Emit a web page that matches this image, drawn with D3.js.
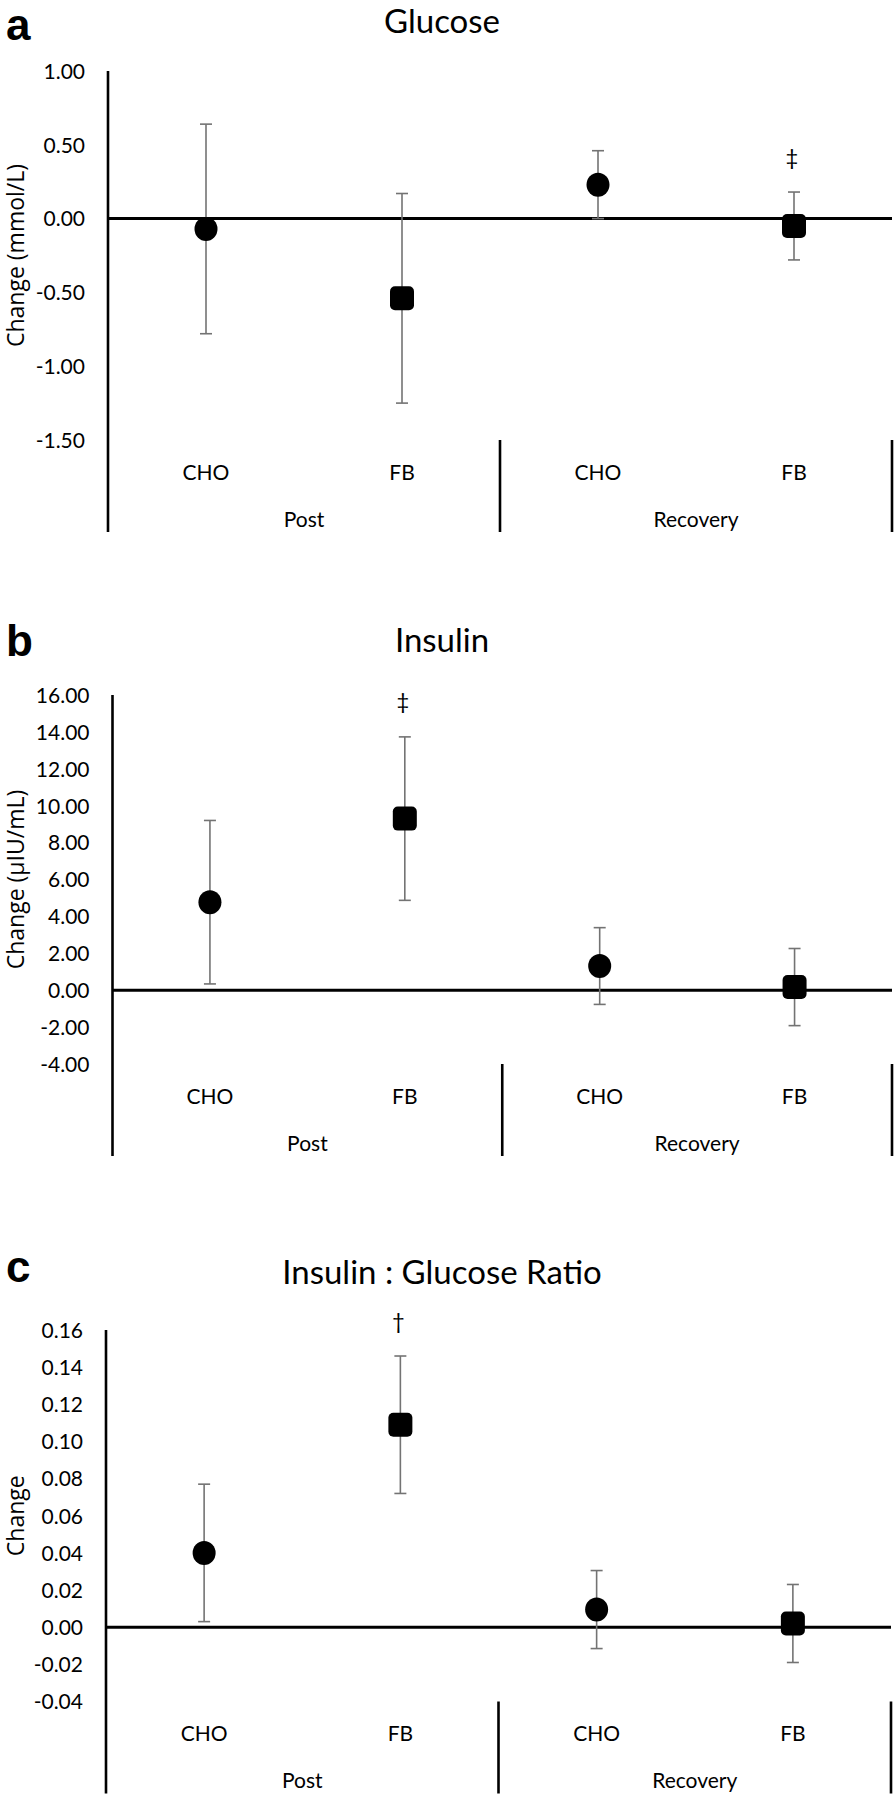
<!DOCTYPE html>
<html>
<head>
<meta charset="utf-8">
<script src="https://cdn.jsdelivr.net/npm/d3@7"></script>
<style>
  body { margin: 0; background: #fff; }
  svg { display: block; }
</style>
</head>
<body>
<div id="chart"></div>
<script>
// categories
var groups = ["Post", "Recovery"];
var treatments = ["CHO", "FB"];
var categories = ["Post|CHO", "Post|FB", "Recovery|CHO", "Recovery|FB"];

// glucose change (mmol/L)
var glucoseMean = [-0.07, -0.54, 0.23, -0.05];
var glucoseErr = [0.71, 0.71, 0.23, 0.23];
var glucoseTicks = [1.0, 0.5, 0.0, -0.5, -1.0, -1.5];
var glucoseSig = ["", "", "", "\u2021"];

// insulin change (uIU/mL)
var insulinMean = [4.77, 9.30, 1.31, 0.17];
var insulinErr = [4.43, 4.43, 2.08, 2.09];
var insulinTicks = [16, 14, 12, 10, 8, 6, 4, 2, 0, -2, -4];
var insulinSig = ["", "\u2021", "", ""];

// insulin : glucose ratio change
var ratioMean = [0.040, 0.109, 0.0095, 0.002];
var ratioErr = [0.037, 0.037, 0.021, 0.021];
var ratioTicks = [0.16, 0.14, 0.12, 0.10, 0.08, 0.06, 0.04, 0.02, 0.00, -0.02, -0.04];
var ratioSig = ["", "\u2020", "", ""];

var W = 894, H = 1794;
var svg = d3.select("#chart").append("svg").attr("width", W).attr("height", H);

var panels = [
   { letter: "a", title: "Glucose", ylab: "Change (mmol/L)", mean: glucoseMean, err: glucoseErr,
     ticks: glucoseTicks, sig: glucoseSig, left: 108, right: 892, top: 71, bottom: 440, titleY: 33, letterY: 40 },
   { letter: "b", title: "Insulin", ylab: "Change (\u00b5IU/mL)", mean: insulinMean, err: insulinErr,
     ticks: insulinTicks, sig: insulinSig, left: 112.5, right: 892, top: 695, bottom: 1064, titleY: 652, letterY: 656 },
   { letter: "c", title: "Insulin : Glucose Ratio", ylab: "Change", mean: ratioMean, err: ratioErr,
     ticks: ratioTicks, sig: ratioSig, left: 106, right: 891, top: 1330, bottom: 1701.5, titleY: 1284, letterY: 1282 }
];

var fmt = d3.format(".2f");
function tick_fmt(d) { return fmt(d).replace("\u2212", "-"); }

function draw_panel(p) {
   var g = svg.append("g").attr("class", "panel_" + p.letter);
   var y = d3.scaleLinear().domain(d3.extent(p.ticks)).range([p.bottom, p.top]);
   var x = d3.scaleBand().domain(categories).range([p.left, p.right]);
   var xg = d3.scaleBand().domain(groups).range([p.left, p.right]);
   var cx = function(i) { return x(categories[i]) + x.bandwidth() / 2; };
   var labelBottom = p.bottom + 92;

   // letter + title
   g.append("text").attr("x", 6).attr("y", p.letterY)
      .style("font-family", "'Liberation Sans', Arial, sans-serif").style("font-weight", "bold")
      .style("font-size", "44px").text(p.letter);
   g.append("text").attr("x", 442).attr("y", p.titleY).attr("text-anchor", "middle")
      .style("font-family", "Lato, sans-serif").style("font-size", "33px").text(p.title);

   // y axis labels
   var yAxis = d3.axisLeft(y).tickValues(p.ticks).tickSize(0).tickPadding(23).tickFormat(tick_fmt);
   var ax = g.append("g").attr("transform", "translate(" + p.left + ",0)").call(yAxis);
   ax.select(".domain").remove();
   ax.selectAll("text").style("font-family", "Lato, sans-serif").style("font-size", "21px")
      .attr("fill", "#000").attr("dy", "0.35em");

   g.append("text").attr("transform", "translate(15," + (p.top + p.bottom) / 2 + ") rotate(-90)")
      .attr("text-anchor", "middle").attr("dominant-baseline", "central")
      .style("font-family", "'Open Sans', sans-serif").style("font-size", "23px").text(p.ylab);

   // axis lines
   g.append("line").attr("x1", p.left).attr("x2", p.left).attr("y1", p.top).attr("y2", labelBottom)
      .attr("stroke", "#000").attr("stroke-width", 2.6);
   g.append("line").attr("x1", p.left).attr("x2", p.right).attr("y1", y(0)).attr("y2", y(0))
      .attr("stroke", "#000").attr("stroke-width", 3);
   g.selectAll("line.sep").data(groups).enter().append("line").attr("class", "sep")
      .attr("x1", function(d) { return xg(d) + xg.bandwidth(); })
      .attr("x2", function(d) { return xg(d) + xg.bandwidth(); })
      .attr("y1", p.bottom).attr("y2", labelBottom)
      .attr("stroke", "#000").attr("stroke-width", 2.6);

   // category labels
   g.selectAll("text.cat").data(categories).enter().append("text").attr("class", "cat")
      .attr("x", function(d, i) { return cx(i); }).attr("y", p.bottom + 31)
      .attr("text-anchor", "middle").attr("dominant-baseline", "central")
      .style("font-family", "Lato, sans-serif").style("font-size", "21px")
      .text(function(d) { return d.split("|")[1]; });
   g.selectAll("text.grp").data(groups).enter().append("text").attr("class", "grp")
      .attr("x", function(d) { return xg(d) + xg.bandwidth() / 2; }).attr("y", p.bottom + 78)
      .attr("text-anchor", "middle").attr("dominant-baseline", "central")
      .style("font-family", "Lato, sans-serif").style("font-size", "21px")
      .text(function(d) { return d; });

   // error bars
   var eb = g.selectAll("g.eb").data(p.mean).enter().append("g").attr("class", "eb")
      .attr("stroke", "#737373").attr("stroke-width", 1.6);
   eb.append("line").attr("x1", function(d, i) { return cx(i); }).attr("x2", function(d, i) { return cx(i); })
      .attr("y1", function(d, i) { return y(d + p.err[i]); }).attr("y2", function(d, i) { return y(d - p.err[i]); });
   eb.append("line").attr("x1", function(d, i) { return cx(i) - 6; }).attr("x2", function(d, i) { return cx(i) + 6; })
      .attr("y1", function(d, i) { return y(d + p.err[i]); }).attr("y2", function(d, i) { return y(d + p.err[i]); });
   eb.append("line").attr("x1", function(d, i) { return cx(i) - 6; }).attr("x2", function(d, i) { return cx(i) + 6; })
      .attr("y1", function(d, i) { return y(d - p.err[i]); }).attr("y2", function(d, i) { return y(d - p.err[i]); });

   // markers: circle for CHO, rounded square for FB
   p.mean.forEach(function(d, i) {
      var t = categories[i].split("|")[1];
      if (t == "CHO") {
         g.append("ellipse").attr("cx", cx(i)).attr("cy", y(d)).attr("rx", 11.5).attr("ry", 12).attr("fill", "#000");
      } else {
         g.append("rect").attr("x", cx(i) - 12).attr("y", y(d) - 12).attr("width", 24).attr("height", 24)
            .attr("rx", 5).attr("fill", "#000");
      }
   });

   // significance symbols
   g.selectAll("text.sig").data(p.sig).enter().append("text").attr("class", "sig")
      .attr("x", function(d, i) { return cx(i) - 2; })
      .attr("y", function(d, i) { return y(p.mean[i] + p.err[i]) - 36; })
      .attr("text-anchor", "middle").attr("dominant-baseline", "central")
      .style("font-family", "Lato, 'DejaVu Sans', sans-serif").style("font-size", "22px")
      .text(function(d) { return d; });
}

panels.forEach(draw_panel);
</script>
</body>
</html>
